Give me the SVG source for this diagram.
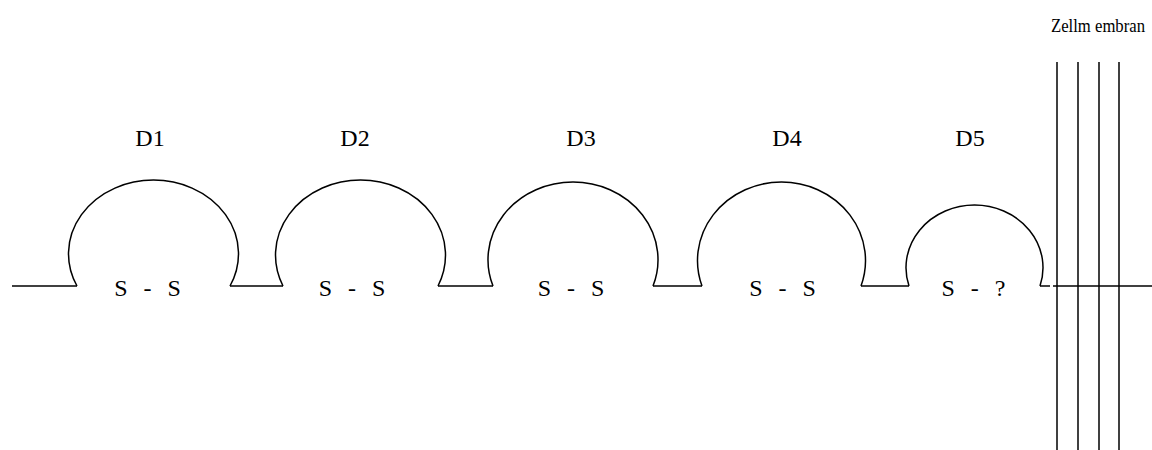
<svg xmlns="http://www.w3.org/2000/svg" width="1152" height="450" viewBox="0 0 1152 450">
  <style>
    .ln { fill: none; stroke: #000; stroke-width: 1.5; }
    .lbl { font-family: "Liberation Serif", "Times New Roman", serif; font-size: 24px; fill: #000; text-anchor: middle; }
    .ss { font-family: "Liberation Serif", "Times New Roman", serif; font-size: 24px; fill: #000; text-anchor: middle; word-spacing: 10px; }
    .mem { font-family: "Liberation Serif", "Times New Roman", serif; font-size: 18px; fill: #000; }
  </style>
  <rect width="1152" height="450" fill="#fff"/>

  <!-- backbone segments between the domains -->
  <g id="connectors" class="ln">
    <line x1="12" y1="286" x2="77" y2="286"/>
    <line x1="230" y1="286" x2="283" y2="286"/>
    <line x1="438" y1="286" x2="493" y2="286"/>
    <line x1="653" y1="286" x2="702" y2="286"/>
    <line x1="861" y1="286" x2="909" y2="286"/>
    <line x1="1040" y1="286" x2="1050" y2="286"/>
    <line x1="1053" y1="286" x2="1152" y2="286"/>
  </g>

  <!-- domains D1..D5 -->
  <g id="D1">
    <path class="ln" d="M77,286 A85,73.8 0 1 1 230,286"/>
    <text class="lbl" x="150" y="146">D1</text>
    <text class="ss" x="147.5" y="296" xml:space="preserve">S - S</text>
  </g>
  <g id="D2">
    <path class="ln" d="M283,286 A85,75.1 0 1 1 438,286"/>
    <text class="lbl" x="355" y="146">D2</text>
    <text class="ss" x="352" y="296" xml:space="preserve">S - S</text>
  </g>
  <g id="D3">
    <path class="ln" d="M493,286 A85,77.7 0 1 1 653,286"/>
    <text class="lbl" x="581" y="146">D3</text>
    <text class="ss" x="571" y="296" xml:space="preserve">S - S</text>
  </g>
  <g id="D4">
    <path class="ln" d="M702,286 A84,78.6 0 1 1 861,286"/>
    <text class="lbl" x="787" y="146">D4</text>
    <text class="ss" x="782.5" y="296" xml:space="preserve">S - S</text>
  </g>
  <g id="D5">
    <path class="ln" d="M909,286 A68.5,62.6 0 1 1 1040,286"/>
    <text class="lbl" x="970" y="146">D5</text>
    <text class="ss" x="973.5" y="296" xml:space="preserve">S - ?</text>
  </g>

  <!-- cell membrane -->
  <g id="membrane">
    <g class="ln">
      <line x1="1057" y1="62" x2="1057" y2="450"/>
      <line x1="1078" y1="62" x2="1078" y2="450"/>
      <line x1="1099" y1="62" x2="1099" y2="450"/>
      <line x1="1119" y1="62" x2="1119" y2="450"/>
    </g>
    <text class="mem" x="1051" y="32" textLength="94" lengthAdjust="spacingAndGlyphs">Zellm embran</text>
  </g>
</svg>
